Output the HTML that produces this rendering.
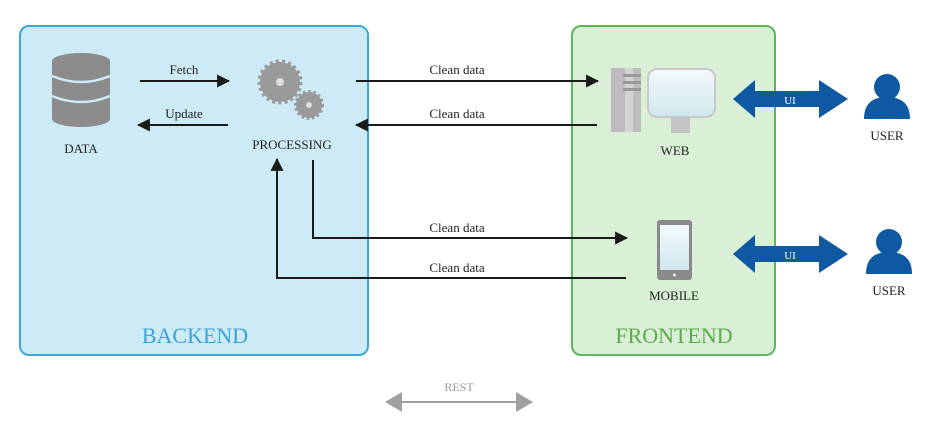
<!DOCTYPE html>
<html><head><meta charset="utf-8"><style>
html,body{margin:0;padding:0;background:#fff;width:940px;height:444px;overflow:hidden}
text{font-family:"Liberation Serif",serif}
</style></head><body>
<svg width="940" height="444" viewBox="0 0 940 444" xmlns="http://www.w3.org/2000/svg">
<defs>
<marker id="a" viewBox="0 0 12 12" refX="11" refY="6" markerWidth="13" markerHeight="13" markerUnits="userSpaceOnUse" orient="auto"><path d="M0,0L12,6L0,12z" fill="#1a1a1a"/></marker>
<linearGradient id="g" x1="0" y1="0" x2="0" y2="1"><stop offset="0" stop-color="#f4fafc"/><stop offset="1" stop-color="#cfe7ee"/></linearGradient>
</defs>
<rect x="20" y="26" width="348" height="329" rx="9" fill="#cdebf7" stroke="#3aa8dc" stroke-width="2"/>
<rect x="572" y="26" width="203" height="329" rx="9" fill="#d9efd6" stroke="#5cb85c" stroke-width="2"/>
<text x="195" y="343" font-size="22" fill="#3aa3d9" text-anchor="middle">BACKEND</text>
<text x="674" y="343" font-size="22" fill="#5aab4a" text-anchor="middle">FRONTEND</text>
<g fill="#8c8c8c">
<ellipse cx="81" cy="61" rx="29" ry="8"/>
<rect x="52" y="61" width="58" height="58"/>
<ellipse cx="81" cy="119" rx="29" ry="8"/>
</g>
<path d="M52,76 Q81,88 110,76 M52,96 Q81,108 110,96" stroke="#cdebf7" stroke-width="2.5" fill="none"/>
<text x="81" y="153" font-size="13" text-anchor="middle" fill="#222">DATA</text>
<circle cx="280" cy="82" r="20" fill="#9a9a9a" stroke="#9a9a9a" stroke-width="5" stroke-dasharray="3 3"/>
<circle cx="280" cy="82" r="4" fill="#ddd"/>
<circle cx="309" cy="105" r="13" fill="#9a9a9a" stroke="#9a9a9a" stroke-width="4" stroke-dasharray="2.5 2.5"/>
<circle cx="309" cy="105" r="3" fill="#ddd"/>
<text x="292" y="149" font-size="13" text-anchor="middle" fill="#222">PROCESSING</text>
<g stroke="#1a1a1a" stroke-width="2" fill="none">
<line x1="140" y1="81" x2="229" y2="81" marker-end="url(#a)"/>
<line x1="228" y1="125" x2="138" y2="125" marker-end="url(#a)"/>
<line x1="356" y1="81" x2="598" y2="81" marker-end="url(#a)"/>
<line x1="597" y1="125" x2="356" y2="125" marker-end="url(#a)"/>
<polyline points="313,160 313,238 627,238" marker-end="url(#a)"/>
<polyline points="626,278 277,278 277,159" marker-end="url(#a)"/>
</g>
<g font-size="13" fill="#222" text-anchor="middle">
<text x="184" y="74">Fetch</text>
<text x="184" y="118">Update</text>
<text x="457" y="74">Clean data</text>
<text x="457" y="118">Clean data</text>
<text x="457" y="232">Clean data</text>
<text x="457" y="272">Clean data</text>
</g>
<rect x="611" y="68" width="30" height="64" fill="#bdbdbd"/>
<rect x="625" y="68" width="8" height="64" fill="#d3d3d3"/>
<rect x="623" y="74" width="18" height="3" fill="#999"/>
<rect x="623" y="81" width="18" height="3" fill="#999"/>
<rect x="623" y="88" width="18" height="3" fill="#999"/>
<rect x="671" y="115" width="19" height="18" fill="#c4c4c4"/>
<rect x="648" y="69" width="67" height="48" rx="9" fill="url(#g)" stroke="#c8c8c8" stroke-width="2"/>
<text x="675" y="155" font-size="13" text-anchor="middle" fill="#222">WEB</text>
<rect x="657" y="220" width="35" height="60" rx="3" fill="#8a8a8a"/>
<rect x="660" y="225" width="29" height="45" fill="url(#g)"/>
<circle cx="674.5" cy="275" r="1.5" fill="#eee"/>
<text x="674" y="300" font-size="13" text-anchor="middle" fill="#222">MOBILE</text>
<g fill="#0f59a3">
<path d="M733,99 L755,80 L755,91 L819,91 L819,80 L848,99 L819,118 L819,107 L755,107 L755,118z"/>
<path d="M733,254 L755,235 L755,246 L819,246 L819,235 L848,254 L819,273 L819,262 L755,262 L755,273z"/>
<circle cx="887" cy="87" r="13"/>
<path d="M864,119 Q864,97 887,97 Q910,97 910,119z"/>
<circle cx="889" cy="242" r="13"/>
<path d="M866,274 Q866,252 889,252 Q912,252 912,274z"/>
</g>
<text x="790" y="104" font-size="11" fill="#fff" text-anchor="middle">UI</text>
<text x="790" y="259" font-size="11" fill="#fff" text-anchor="middle">UI</text>
<text x="887" y="140" font-size="13" text-anchor="middle" fill="#222">USER</text>
<text x="889" y="295" font-size="13" text-anchor="middle" fill="#222">USER</text>
<line x1="396" y1="402" x2="523" y2="402" stroke="#a0a0a0" stroke-width="2"/>
<path d="M385,402 L402,392 L402,412z M533,402 L516,392 L516,412z" fill="#a0a0a0"/>
<text x="459" y="391" font-size="12" text-anchor="middle" fill="#999">REST</text>
</svg>
</body></html>
